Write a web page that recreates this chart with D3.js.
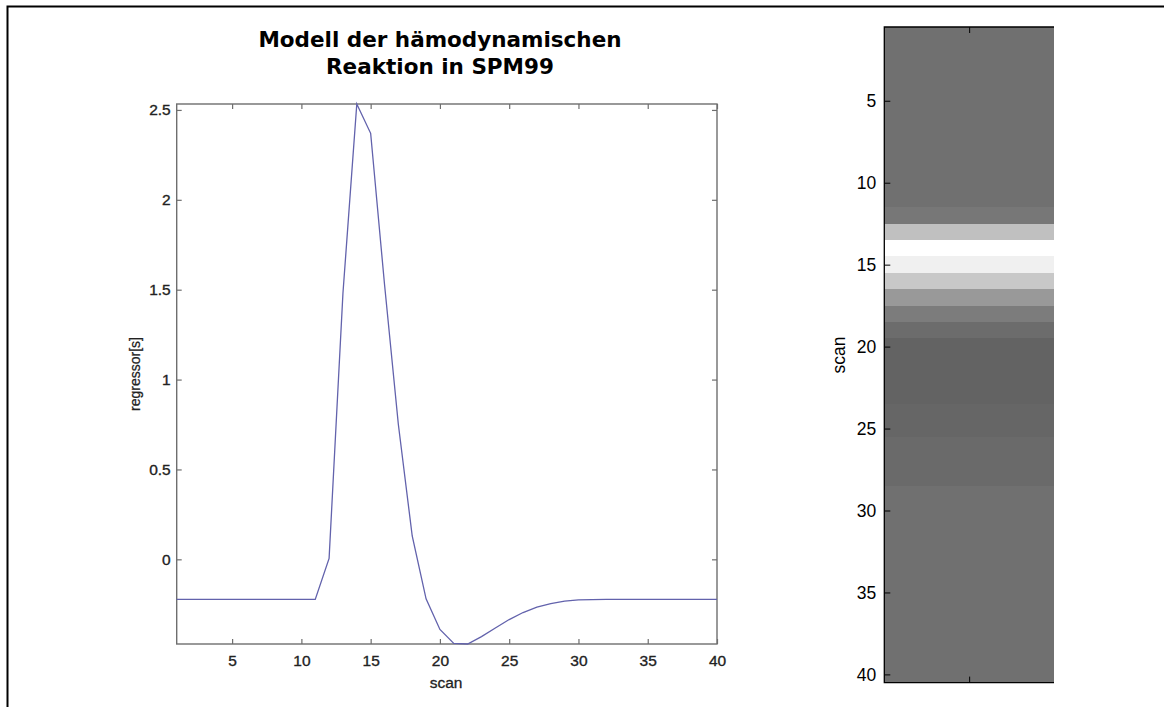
<!DOCTYPE html>
<html>
<head>
<meta charset="utf-8">
<script src="https://cdn.jsdelivr.net/npm/d3@7"></script>
<style>
  body { margin: 0; background: #fff; }
  svg { display: block; }
</style>
</head>
<body>
<div id="chart"></div>
<script>
// Datos: regresor (modelo hemodinámico) por scan
const scans = d3.range(1, 41);
const regressor = [
  -0.223, -0.223, -0.223, -0.223, -0.223, -0.223, -0.223, -0.223, -0.223, -0.223,
  -0.223, 0.005, 1.48, 2.533, 2.37, 1.53, 0.75, 0.13, -0.22, -0.39,
  -0.468, -0.471, -0.43, -0.382, -0.335, -0.296, -0.266, -0.246, -0.233, -0.226,
  -0.224, -0.223, -0.223, -0.223, -0.223, -0.223, -0.223, -0.223, -0.223, -0.223
];
// Grauwerte der Bildspalte (0-255), pro scan
const imageGray = [
  112, 112, 112, 112, 112, 112, 112, 112, 112, 112,
  112, 119, 192, 255, 240, 200, 153, 124, 108, 99,
  99, 99, 99, 102, 102, 106, 106, 106, 112, 112,
  112, 112, 112, 112, 112, 112, 112, 112, 112, 112
];
const xTicks = [5, 10, 15, 20, 25, 30, 35, 40];
const yTicks = [0, 0.5, 1, 1.5, 2, 2.5];
const yTickLabels = ["0", "0.5", "1", "1.5", "2", "2.5"];
const imgTicks = [5, 10, 15, 20, 25, 30, 35, 40];
const titleLines = ["Modell der hämodynamischen", "Reaktion in SPM99"];

const svg = d3.select("#chart").append("svg")
  .attr("width", 1164)
  .attr("height", 707);

svg.append("rect").attr("width", 1164).attr("height", 707).attr("fill", "#fff");

// Rahmen (oben und links)
svg.append("path")
  .attr("d", "M7.5,707 V6.5 H1164")
  .attr("fill", "none")
  .attr("stroke", "#000")
  .attr("stroke-width", 2);

// ---------- linker Plot ----------
const x = d3.scaleLinear().domain([1, 40]).range([176.7, 717]);
const y = d3.scaleLinear().domain([-0.471, 2.533]).range([644, 104]);
const axisColor = "#6e6e6e";
const labelFont = "'Liberation Sans', Arial, sans-serif";

const plot = svg.append("g");

plot.append("rect")
  .attr("x", x(1)).attr("y", y(2.533))
  .attr("width", x(40) - x(1)).attr("height", y(-0.471) - y(2.533))
  .attr("fill", "#fff")
  .attr("stroke", axisColor)
  .attr("stroke-width", 1.4);

function styleAxis(g, size) {
  g.select(".domain").remove();
  g.selectAll(".tick line").attr("stroke", axisColor).attr("stroke-width", 1.2);
  g.selectAll("text")
    .attr("fill", "#222")
    .attr("stroke", "#222")
    .attr("stroke-width", 0.35)
    .style("font-family", labelFont)
    .style("font-size", size + "px");
}

plot.append("g")
  .attr("transform", `translate(0,${y(-0.471)})`)
  .call(d3.axisBottom(x).tickValues(xTicks).tickSize(-5).tickPadding(11))
  .call(g => styleAxis(g, 15.5));

plot.append("g")
  .attr("transform", `translate(0,${y(2.533)})`)
  .call(d3.axisTop(x).tickValues(xTicks).tickSize(-5).tickFormat(""))
  .call(g => styleAxis(g, 15.5));

plot.append("g")
  .attr("transform", `translate(${x(1)},0)`)
  .call(d3.axisLeft(y).tickValues(yTicks).tickSize(-5).tickPadding(6)
    .tickFormat((d, i) => yTickLabels[i]))
  .call(g => styleAxis(g, 15.5));

plot.append("g")
  .attr("transform", `translate(${x(40)},0)`)
  .call(d3.axisRight(y).tickValues(yTicks).tickSize(-5).tickFormat(""))
  .call(g => styleAxis(g, 15.5));

const line = d3.line()
  .x((d, i) => x(scans[i]))
  .y(d => y(d));

plot.append("path")
  .datum(regressor)
  .attr("d", line)
  .attr("fill", "none")
  .attr("stroke", "#6262ac")
  .attr("stroke-width", 1.3);

plot.append("text")
  .attr("x", 446).attr("y", 688)
  .attr("text-anchor", "middle")
  .style("font-family", labelFont)
  .style("font-size", "15.5px")
  .attr("fill", "#222")
  .attr("stroke", "#222")
  .attr("stroke-width", 0.3)
  .text("scan");

plot.append("text")
  .attr("transform", "translate(140,374) rotate(-90)")
  .attr("text-anchor", "middle")
  .style("font-family", labelFont)
  .style("font-size", "14px")
  .attr("fill", "#222")
  .attr("stroke", "#222")
  .attr("stroke-width", 0.25)
  .text("regressor[s]");

// Titel
svg.selectAll(".title")
  .data(titleLines)
  .enter()
  .append("text")
  .attr("class", "title")
  .attr("x", 440)
  .attr("y", (d, i) => 46.5 + i * 27.5)
  .attr("text-anchor", "middle")
  .style("font-family", "'DejaVu Sans', Verdana, sans-serif")
  .style("font-weight", "bold")
  .style("font-size", "21.5px")
  .attr("fill", "#000")
  .text(d => d);

// ---------- rechtes Bild ----------
const xImg = d3.scaleLinear().domain([0.5, 1.5]).range([884.3, 1054]);
const yImg = d3.scaleLinear().domain([0.5, 40.5]).range([27, 682.6]);
const gray = d3.scaleLinear().domain([0, 255]).range(["#000", "#fff"]);

const img = svg.append("g");

img.selectAll("rect.cell")
  .data(imageGray)
  .enter()
  .append("rect")
  .attr("class", "cell")
  .attr("shape-rendering", "crispEdges")
  .attr("x", xImg(0.5))
  .attr("width", xImg(1.5) - xImg(0.5))
  .attr("y", (d, i) => Math.round(yImg(scans[i] - 0.5)))
  .attr("height", (d, i) => Math.round(yImg(scans[i] + 0.5)) - Math.round(yImg(scans[i] - 0.5)))
  .attr("fill", d => gray(d));

function styleImgAxis(g) {
  g.select(".domain").remove();
  g.selectAll(".tick line").attr("stroke", "#000").attr("stroke-width", 1);
  g.selectAll("text")
    .attr("fill", "#000")
    .style("font-family", labelFont)
    .style("font-size", "17.5px");
}

img.append("g")
  .attr("transform", `translate(${xImg(0.5)},0)`)
  .call(d3.axisLeft(yImg).tickValues(imgTicks).tickSize(-6).tickPadding(8))
  .call(styleImgAxis);

img.append("g")
  .attr("transform", `translate(0,${yImg(0.5)})`)
  .call(d3.axisTop(xImg).tickValues([1]).tickSize(-6).tickFormat(""))
  .call(styleImgAxis);

img.append("g")
  .attr("transform", `translate(0,${yImg(40.5)})`)
  .call(d3.axisBottom(xImg).tickValues([1]).tickSize(-6).tickFormat(""))
  .call(styleImgAxis);

img.append("path")
  .attr("d", `M${xImg(1.5)},${yImg(0.5)} H${xImg(0.5)} V${yImg(40.5)} H${xImg(1.5)}`)
  .attr("fill", "none")
  .attr("stroke", "#000")
  .attr("stroke-width", 1.3);

img.append("text")
  .attr("transform", "translate(845,355) rotate(-90)")
  .attr("text-anchor", "middle")
  .style("font-family", labelFont)
  .style("font-size", "17.5px")
  .attr("fill", "#000")
  .text("scan");
</script>
</body>
</html>
